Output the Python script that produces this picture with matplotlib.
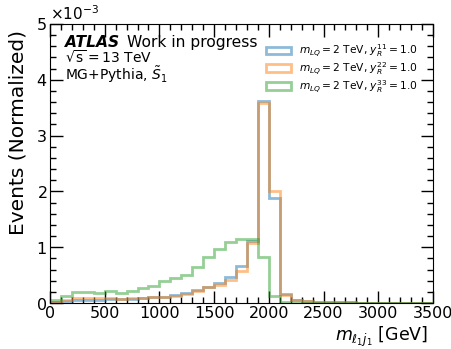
import numpy as np
import matplotlib
matplotlib.use("Agg")
import matplotlib.pyplot as plt
from matplotlib.ticker import MultipleLocator

# --- binned m(l1 j1) distributions, normalized, in units of 1e-3 ---
edges = np.arange(0, 3600, 100)

y11 = [0.01, 0.03, 0.05, 0.06, 0.06, 0.07, 0.07, 0.08, 0.09, 0.10,
       0.11, 0.14, 0.18, 0.23, 0.29, 0.35, 0.47, 0.66, 1.12, 3.62,
       1.88, 0.17, 0.06, 0.03, 0.02, 0.015, 0.01, 0.01, 0.008, 0.006,
       0.005, 0.004, 0.004, 0.003, 0.003]
y22 = [0.02, 0.06, 0.09, 0.09, 0.09, 0.09, 0.08, 0.09, 0.09, 0.10,
       0.11, 0.13, 0.17, 0.22, 0.28, 0.32, 0.42, 0.58, 1.08, 3.58,
       2.01, 0.14, 0.05, 0.03, 0.02, 0.015, 0.01, 0.01, 0.008, 0.006,
       0.005, 0.004, 0.004, 0.003, 0.003]
y33 = [0.05, 0.13, 0.19, 0.19, 0.18, 0.22, 0.18, 0.22, 0.26, 0.30,
       0.39, 0.44, 0.51, 0.65, 0.83, 0.96, 1.09, 1.14, 1.15, 0.82,
       0.13, 0.02, 0.008, 0.006, 0.005, 0.005, 0.004, 0.004, 0.004, 0.003,
       0.003, 0.003, 0.003, 0.003, 0.003]

labels = [r"$m_{LQ}=2$ TeV, $y_R^{11}=1.0$",
          r"$m_{LQ}=2$ TeV, $y_R^{22}=1.0$",
          r"$m_{LQ}=2$ TeV, $y_R^{33}=1.0$"]
colors = ["tab:blue", "tab:orange", "tab:green"]

centers = 0.5 * (edges[:-1] + edges[1:])

fig = plt.figure(figsize=(4.52, 3.49), dpi=100)
ax = fig.add_axes([0.1106, 0.1318, 0.8473, 0.7995])

for vals, lab, col in zip([y11, y22, y33], labels, colors):
    ax.hist(centers, bins=edges, weights=np.array(vals) * 1e-3,
            histtype="step", color=col, alpha=0.5, linewidth=2.0, label=lab)

ax.set_xlim(0, 3500)
ax.set_ylim(0, 5e-3)
ax.xaxis.set_major_locator(MultipleLocator(500))
ax.xaxis.set_minor_locator(MultipleLocator(100))
ax.yaxis.set_major_locator(MultipleLocator(1e-3))
ax.yaxis.set_minor_locator(MultipleLocator(0.2e-3))
ax.ticklabel_format(axis="y", style="sci", scilimits=(-3, -3), useMathText=True)
ax.yaxis.get_offset_text().set_fontsize(11)

ax.tick_params(which="both", direction="in", top=True, right=True,
               labelsize=11.5, pad=2)
ax.tick_params(which="major", length=9, width=1)
ax.tick_params(which="minor", length=4.5, width=1)

ax.set_xlabel(r"$m_{\ell_1 j_1}$ [GeV]", fontsize=12.5, loc="right", labelpad=3)
ax.xaxis.label.set_x(0.986)
ax.set_ylabel("Events (Normalized)", fontsize=14.5, loc="top")
ax.yaxis.set_label_coords(-0.058, 0.978)

# experiment label block
ax.text(0.04, 0.919, "ATLAS", transform=ax.transAxes, fontsize=11.2,
        fontweight="bold", fontstyle="italic", va="baseline")
ax.text(0.2, 0.919, "Work in progress", transform=ax.transAxes,
        fontsize=11.2, va="baseline")
ax.text(0.04, 0.859, r"$\sqrt{\mathrm{s}}=13$ TeV", transform=ax.transAxes,
        fontsize=10, va="baseline")
ax.text(0.04, 0.799, r"MG+Pythia, $\tilde{S}_1$", transform=ax.transAxes,
        fontsize=10, va="baseline")

ax.legend(loc="upper right", bbox_to_anchor=(1.0, 0.99), frameon=False,
          fontsize=7.7, handlelength=2.4, handleheight=0.7,
          labelspacing=0.1, handletextpad=0.7, borderaxespad=1.05)

fig.savefig("out.png", dpi=100)
